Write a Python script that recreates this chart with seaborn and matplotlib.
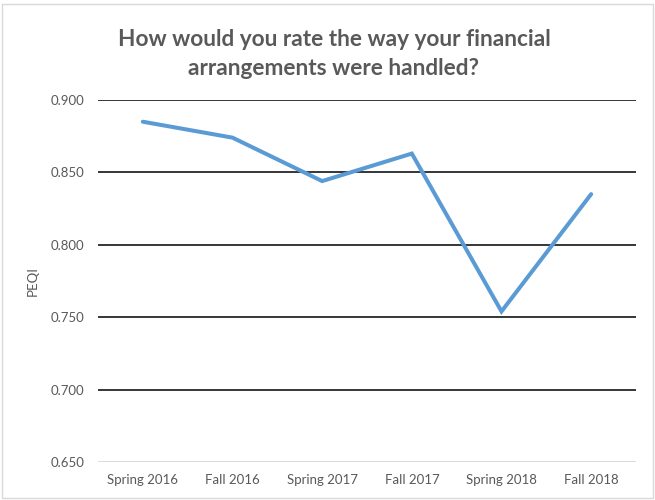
import matplotlib
matplotlib.use("Agg")
import matplotlib.pyplot as plt
import seaborn as sns
import pandas as pd
from matplotlib.patches import Rectangle

terms = ["Spring 2016", "Fall 2016", "Spring 2017", "Fall 2017", "Spring 2018", "Fall 2018"]
peqi = [0.885, 0.874, 0.844, 0.863, 0.754, 0.835]
y_ticks = [0.650, 0.700, 0.750, 0.800, 0.850, 0.900]

sns.set_theme(style="white")
plt.rcParams["font.family"] = ["Lato", "DejaVu Sans"]

df = pd.DataFrame({"term": terms, "peqi": peqi})
df["pos"] = range(len(terms))

fig = plt.figure(figsize=(6.55, 5.0), dpi=100)
ax = fig.add_axes([98 / 655, 1 - 462 / 500, (636 - 98) / 655, (462 - 100) / 500])

for v in y_ticks[1:]:
    ax.axhline(v, color="black", lw=1.1, zorder=1)
ax.axhline(y_ticks[0], color="#D9D9D9", lw=1.3, zorder=1)

sns.lineplot(data=df, x="pos", y="peqi", ax=ax, color="#5B9BD5", lw=2.9,
             zorder=3, solid_capstyle="round", solid_joinstyle="miter")

ax.set_xlim(-0.5, len(terms) - 0.5)
ax.set_ylim(0.650, 0.900)
ax.set_xticks(range(len(terms)))
ax.set_xticklabels(terms)
ax.set_yticks(y_ticks)
ax.set_yticklabels([f"{v:.3f}" for v in y_ticks])
ax.tick_params(axis="both", length=0, colors="#595959", labelsize=9.5)
ax.tick_params(axis="x", pad=9)
ax.tick_params(axis="y", pad=10)
for s in ax.spines.values():
    s.set_visible(False)
ax.set_xlabel("")
ax.set_ylabel("PEQI", color="#595959", fontsize=9.5, labelpad=8)

fig.text(334 / 655, 1 - 54 / 500, "How would you rate the way your financial\narrangements were handled?",
         ha="center", va="center", fontsize=16.3, fontweight="bold", color="#595959",
         linespacing=1.5)

fig.patches.append(Rectangle((2 / 655, 2 / 500), 651 / 655, 494 / 500, transform=fig.transFigure,
                             fill=False, edgecolor="#D9D9D9", lw=1.0))

fig.savefig("out.png", dpi=100)
